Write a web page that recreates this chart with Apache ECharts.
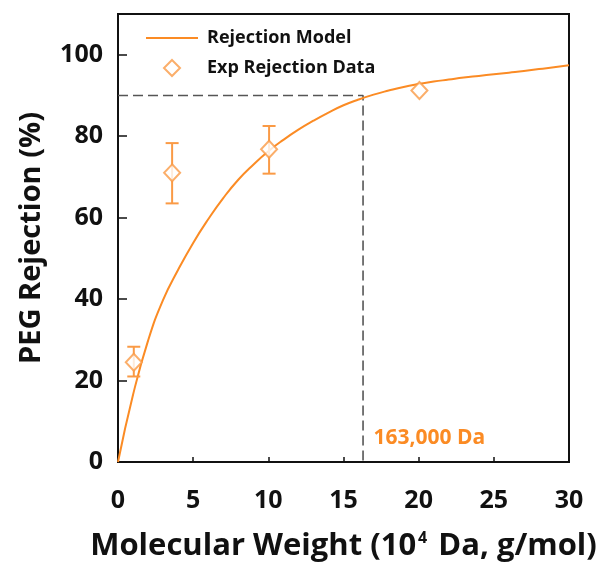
<!DOCTYPE html>
<html lang="en">
<head>
    <meta charset="UTF-8">
    <title>PEG Rejection</title>
    <script src="https://cdn.jsdelivr.net/npm/echarts@6/dist/echarts.min.js"></script>
    <style>
        html, body { margin: 0; padding: 0; background: #fff; }
        #main { width: 598px; height: 562px; }
    </style>
</head>
<body>
<div id="main"></div>
<script>
    // model curve at each unit of MW (10^4 Da), rejection %
    var modelMW = [0, 1, 2, 3, 4, 5, 6, 7, 8, 9, 10, 11, 12, 13, 14, 15, 16, 17, 18, 19, 20, 21, 22, 23, 24, 25, 26, 27, 28, 29, 30];
    var modelRej = [0, 16.5, 29.8, 39.8, 47.2, 53.8, 59.6, 64.8, 69.3, 73, 76.3, 79.1, 81.6, 83.8, 85.8, 87.6, 89, 90.2, 91.2, 92.1, 92.8, 93.4, 93.9, 94.4, 94.8, 95.2, 95.6, 96, 96.5, 96.9, 97.4];

    // experimental points with error bars
    var expMW = [1.05, 3.6, 10.05, 20.05];
    var expRej = [24.5, 71, 76.8, 91.2];
    var expLow = [21, 63.5, 70.8, null];
    var expHigh = [28.3, 78.3, 82.5, null];

    // 90% cut-off
    var cutoffRej = 90;
    var cutoffMW = 16.3;
    var cutoffLabel = '163,000 Da';

    var xTicks = [0, 5, 10, 15, 20, 25, 30];
    var yTicks = [0, 20, 40, 60, 80, 100];

    var orange = '#fb8b24';
    var orangeLight = '#fa9a45';
    var font = 'Open Sans';

    var modelData = [];
    for (var i = 0; i < modelMW.length; i++) {
        modelData.push([modelMW[i], modelRej[i]]);
    }
    var expData = [];
    var errData = [];
    for (var j = 0; j < expMW.length; j++) {
        expData.push([expMW[j], expRej[j]]);
        if (expLow[j] != null) errData.push([expMW[j], expLow[j], expHigh[j]]);
    }
    var cutoffData = [[0, cutoffRej], [cutoffMW, cutoffRej], [cutoffMW, 0]];

    var myChart = echarts.init(document.getElementById('main'));
    var option = {
        backgroundColor: '#fff',
        animation: false,
        grid: {
            left: 118, right: 29, top: 14, bottom: 100,
            outerBoundsMode: 'none',
            show: true, borderColor: '#111', borderWidth: 2
        },
        legend: {
            orient: 'vertical',
            left: 140, top: 24,
            itemWidth: 52, itemHeight: 16, itemGap: 12,
            textStyle: { fontFamily: font, fontWeight: 'bold', fontSize: 18, color: '#111', padding: [0, 0, 0, 4] },
            data: [
                // thin horizontal stroke, with bare move-to points keeping the 52x16 box
                { name: 'Rejection Model', icon: 'path://M0,0M0,7L52,7L52,9L0,9ZM52,16', itemStyle: { color: orange, borderWidth: 0 } },
                { name: 'Exp Rejection Data', icon: 'path://M0,0M26,0L34,8L26,16L18,8ZM52,16', itemStyle: { color: '#fff', borderColor: orangeLight, borderWidth: 2 } }
            ]
        },
        xAxis: {
            type: 'value', min: 0, max: 30, interval: 5,
            name: 'Molecular Weight (10{sup|4} Da, g/mol)',
            nameLocation: 'middle', nameGap: 68,
            nameTextStyle: {
                fontFamily: font, fontWeight: 'bold', fontSize: 31, color: '#111',
                rich: { sup: { fontFamily: font, fontWeight: 'bold', fontSize: 16, color: '#111', verticalAlign: 'bottom', padding: [0, 3, 16, 2] } }
            },
            axisLine: { show: true, lineStyle: { color: '#111', width: 2 } },
            axisTick: { show: true, inside: true, length: 5, lineStyle: { color: '#111', width: 1.5 } },
            axisLabel: {
                margin: 26, fontFamily: font, fontWeight: 'bold', fontSize: 25, color: '#111',
                formatter: function (v) { return xTicks.indexOf(v) >= 0 ? v : ''; }
            },
            splitLine: { show: false }
        },
        yAxis: {
            type: 'value', min: 0, max: 110, interval: 20,
            name: 'PEG Rejection (%)',
            nameLocation: 'middle', nameGap: 72,
            nameTextStyle: { fontFamily: font, fontWeight: 'bold', fontSize: 29, color: '#111' },
            axisLine: { show: true, lineStyle: { color: '#111', width: 2 } },
            axisTick: { show: true, inside: true, length: 9, lineStyle: { color: '#111', width: 1.5 } },
            axisLabel: {
                margin: 15, fontFamily: font, fontWeight: 'bold', fontSize: 25, color: '#111',
                showMaxLabel: false,
                formatter: function (v) { return yTicks.indexOf(v) >= 0 ? v : ''; }
            },
            splitLine: { show: false }
        },
        series: [
            {
                name: 'cutoff',
                type: 'line',
                data: cutoffData,
                symbol: 'none',
                silent: true,
                z: 1,
                lineStyle: { color: '#555', width: 1.6, type: [10, 5] },
                markPoint: {
                    symbol: 'rect', symbolSize: 1,
                    itemStyle: { color: 'transparent' },
                    label: {
                        show: true, formatter: cutoffLabel, position: 'right', distance: 10,
                        fontFamily: font, fontWeight: 'bold', fontSize: 21, color: orange
                    },
                    data: [{ coord: [cutoffMW, 6] }]
                }
            },
            {
                name: 'Rejection Model',
                type: 'line',
                data: modelData,
                smooth: 0.5,
                symbol: 'none',
                z: 2,
                lineStyle: { color: orange, width: 2 },
                itemStyle: { color: orange }
            },
            {
                name: 'errors',
                type: 'custom',
                data: errData,
                z: 3,
                renderItem: function (params, api) {
                    var x = api.value(0);
                    var lo = api.coord([x, api.value(1)]);
                    var hi = api.coord([x, api.value(2)]);
                    var cap = 6.5;
                    var st = { stroke: orangeLight, lineWidth: 2 };
                    return {
                        type: 'group',
                        children: [
                            { type: 'line', shape: { x1: lo[0], y1: lo[1], x2: hi[0], y2: hi[1] }, style: st },
                            { type: 'line', shape: { x1: lo[0] - cap, y1: lo[1], x2: lo[0] + cap, y2: lo[1] }, style: st },
                            { type: 'line', shape: { x1: hi[0] - cap, y1: hi[1], x2: hi[0] + cap, y2: hi[1] }, style: st }
                        ]
                    };
                }
            },
            {
                name: 'Exp Rejection Data',
                type: 'scatter',
                data: expData,
                symbol: 'diamond',
                symbolSize: [16, 17],
                z: 4,
                itemStyle: { color: '#fff', borderColor: orangeLight, borderWidth: 2 }
            }
        ]
    };
    myChart.setOption(option);
</script>
</body>
</html>
